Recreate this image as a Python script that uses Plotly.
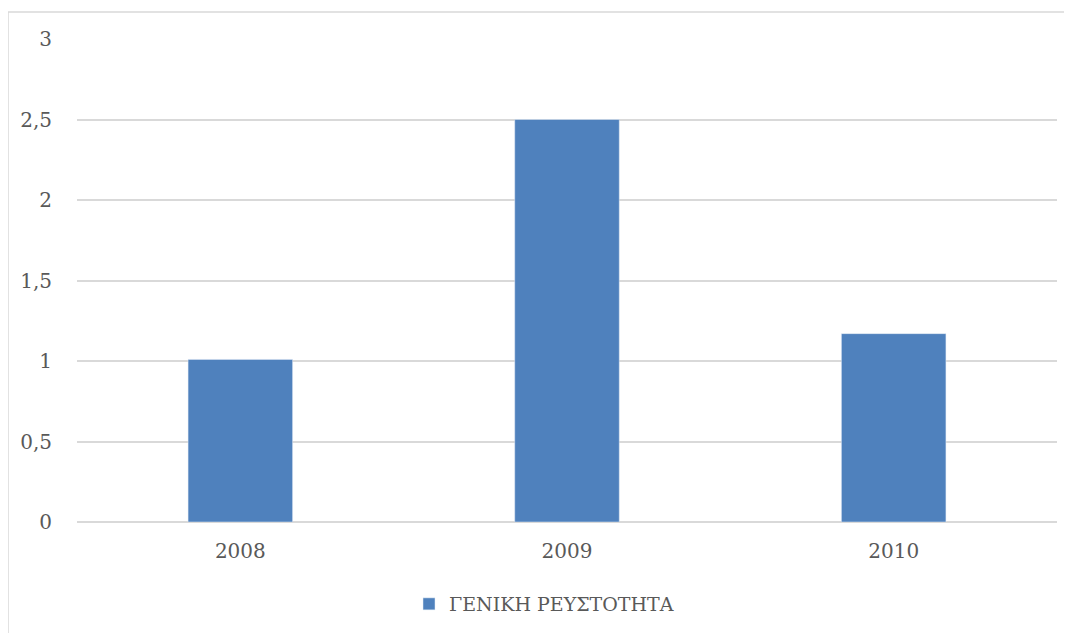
import plotly.graph_objects as go

years = ["2008", "2009", "2010"]
values = [1.01, 2.5, 1.17]
series_name = "ΓΕΝΙΚΗ ΡΕΥΣΤΟΤΗΤΑ"

# page is offset by the default 8px body margin
OFF = 8
W, H = 1072, 633
L, R, T, B = 77 - OFF, 1072 - (1057 - OFF), 39 - OFF, 633 - (522 - OFF)
pw, ph = W - L - R, H - T - B

def px_x(x):
    return (x - OFF - L) / pw

def px_y(y):
    return (H - B - (y - OFF)) / ph

font = dict(family="DejaVu Serif, Liberation Serif, serif", size=20, color="#595959")
lfont = dict(family="DejaVu Serif, Liberation Serif, serif", size=19, color="#595959")

fig = go.Figure(go.Bar(x=years, y=values, name=series_name, marker_color="#4F81BD",
                       showlegend=True))

fig.update_layout(
    width=W, height=H,
    margin=dict(l=L, r=R, t=T, b=B, autoexpand=False),
    paper_bgcolor="white", plot_bgcolor="white",
    separators=",.",
    font=font,
    bargap=0.68,
    showlegend=True,
    legend=dict(orientation="h", x=px_x(544), xanchor="center", y=px_y(604), yanchor="middle",
                font=lfont, itemwidth=30),
    xaxis=dict(showgrid=False, showline=False, ticks="", ticklabelstandoff=15, tickfont=font),
    yaxis=dict(range=[0, 3], dtick=0.5, showgrid=True, gridcolor="#D9D9D9", gridwidth=1.5,
               zeroline=True, zerolinecolor="#D9D9D9", zerolinewidth=1.5,
               showline=False, ticks="", ticklabelstandoff=24, tickfont=font),
    shapes=[dict(type="rect", xref="paper", yref="paper",
                 x0=px_x(8), x1=px_x(1090), y0=px_y(660), y1=px_y(12),
                 line=dict(color="#D9D9D9", width=1.5), fillcolor="rgba(0,0,0,0)", layer="below")],
)

fig.write_html("out.html")
